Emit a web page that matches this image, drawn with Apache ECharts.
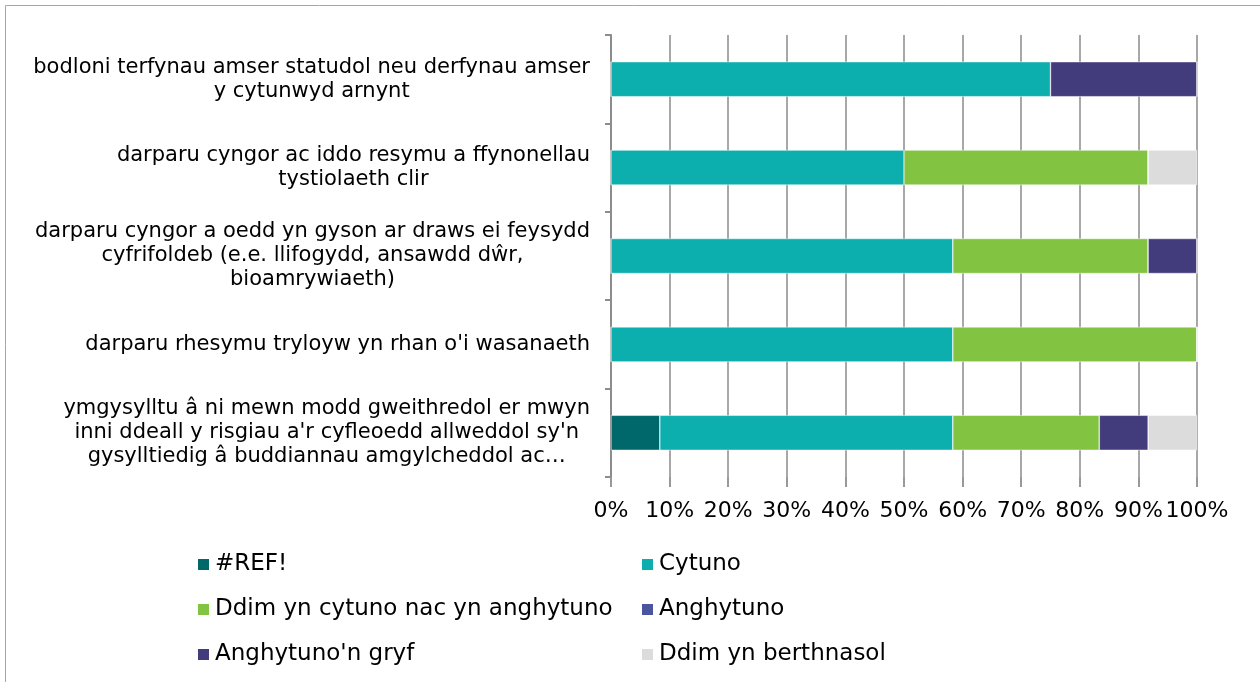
<!DOCTYPE html>
<html>
<head>
<meta charset="utf-8">
<script src="https://cdn.jsdelivr.net/npm/echarts@6/dist/echarts.min.js"></script>
<style>
  html, body { margin: 0; padding: 0; background: #fff; }
  #chart { width: 1260px; height: 682px; }
</style>
</head>
<body>
<div id="chart"></div>
<script>
const categories = [
  "bodloni terfynau amser statudol neu derfynau amser\ny cytunwyd arnynt",
  "darparu cyngor ac iddo resymu a ffynonellau\ntystiolaeth clir",
  "darparu cyngor a oedd yn gyson ar draws ei feysydd\ncyfrifoldeb (e.e. llifogydd, ansawdd dŵr,\nbioamrywiaeth)",
  "darparu rhesymu tryloyw yn rhan o'i wasanaeth",
  "ymgysylltu â ni mewn modd gweithredol er mwyn\ninni ddeall y risgiau a'r cyfleoedd allweddol sy'n\ngysylltiedig â buddiannau amgylcheddol ac…"
];
const seriesNames = ["#REF!", "Cytuno", "Ddim yn cytuno nac yn anghytuno", "Anghytuno", "Anghytuno'n gryf", "Ddim yn berthnasol"];
const refVals      = [0, 0, 0, 0, 8.33];
const cytuno       = [75, 50, 58.33, 58.33, 50];
const ddim         = [0, 41.67, 33.33, 41.67, 25];
const anghytuno    = [0, 0, 0, 0, 0];
const gryf         = [25, 0, 8.33, 0, 8.33];
const berthnasol   = [0, 8.33, 0, 0, 8.33];
const tickLabels = ["0%", "10%", "20%", "30%", "40%", "50%", "60%", "70%", "80%", "90%", "100%"];

const colors = ["#00686a", "#0caeae", "#82c341", "#4b559f", "#433c7c", "#dcdcdc"];
const allData = [refVals, cytuno, ddim, anghytuno, gryf, berthnasol];

const FONT = "DejaVu Sans";

const series = seriesNames.map((n, i) => ({
  name: n,
  type: "bar",
  stack: "total",
  barWidth: 35,
  data: allData[i],
  itemStyle: { color: colors[i], borderColor: "#ffffff", borderWidth: 0.5 },
  emphasis: { disabled: true }
}));

// legend positions: 2 columns x 3 rows
const legendPos = [
  { left: 196, top: 553 }, { left: 640, top: 553 },
  { left: 196, top: 598 }, { left: 640, top: 598 },
  { left: 196, top: 643 }, { left: 640, top: 643 }
];
const legends = seriesNames.map((n, i) => ({
  data: [n],
  left: legendPos[i].left,
  top: legendPos[i].top,
  orient: "horizontal",
  icon: "rect",
  itemWidth: 13,
  itemHeight: 13,
  itemGap: 5,
  padding: 0,
  selectedMode: false,
  textStyle: { fontFamily: FONT, fontSize: 23, color: "#000", padding: [0, 0, 0, 0] }
}));

const chart = echarts.init(document.getElementById("chart"), null, { renderer: "canvas" });
chart.setOption({
  animation: false,
  color: colors,
  graphic: [{
    type: "rect",
    shape: { x: 5.5, y: 5.5, width: 1270, height: 700 },
    style: { fill: "none", stroke: "#a6a6a6", lineWidth: 1 },
    silent: true
  }],
  legend: legends,
  grid: { left: 611, right: 63, top: 35, bottom: 205, containLabel: false },
  xAxis: {
    type: "value",
    min: 0,
    max: 100,
    interval: 10,
    axisLine: { show: false },
    axisTick: { show: true, length: 10, lineStyle: { color: "#999", width: 2 } },
    splitLine: { show: true, lineStyle: { color: "#a8a8a8", width: 2 } },
    axisLabel: {
      fontFamily: FONT, fontSize: 22, color: "#000", margin: 23,
      formatter: (v) => tickLabels[Math.round(v / 10)]
    }
  },
  yAxis: {
    type: "category",
    inverse: true,
    data: categories,
    axisLine: { show: true, lineStyle: { color: "#8c8c8c", width: 2 } },
    axisTick: { show: true, length: 6, lineStyle: { color: "#8c8c8c", width: 2 } },
    axisLabel: {
      margin: 21,
      align: "right",
      formatter: (v) => v.split("\n").map(l => "{c|" + l + "}").join("\n"),
      rich: {
        c: { align: "center", fontFamily: FONT, fontSize: 21, color: "#000", lineHeight: 24 }
      }
    }
  },
  series: series
});
</script>
</body>
</html>
